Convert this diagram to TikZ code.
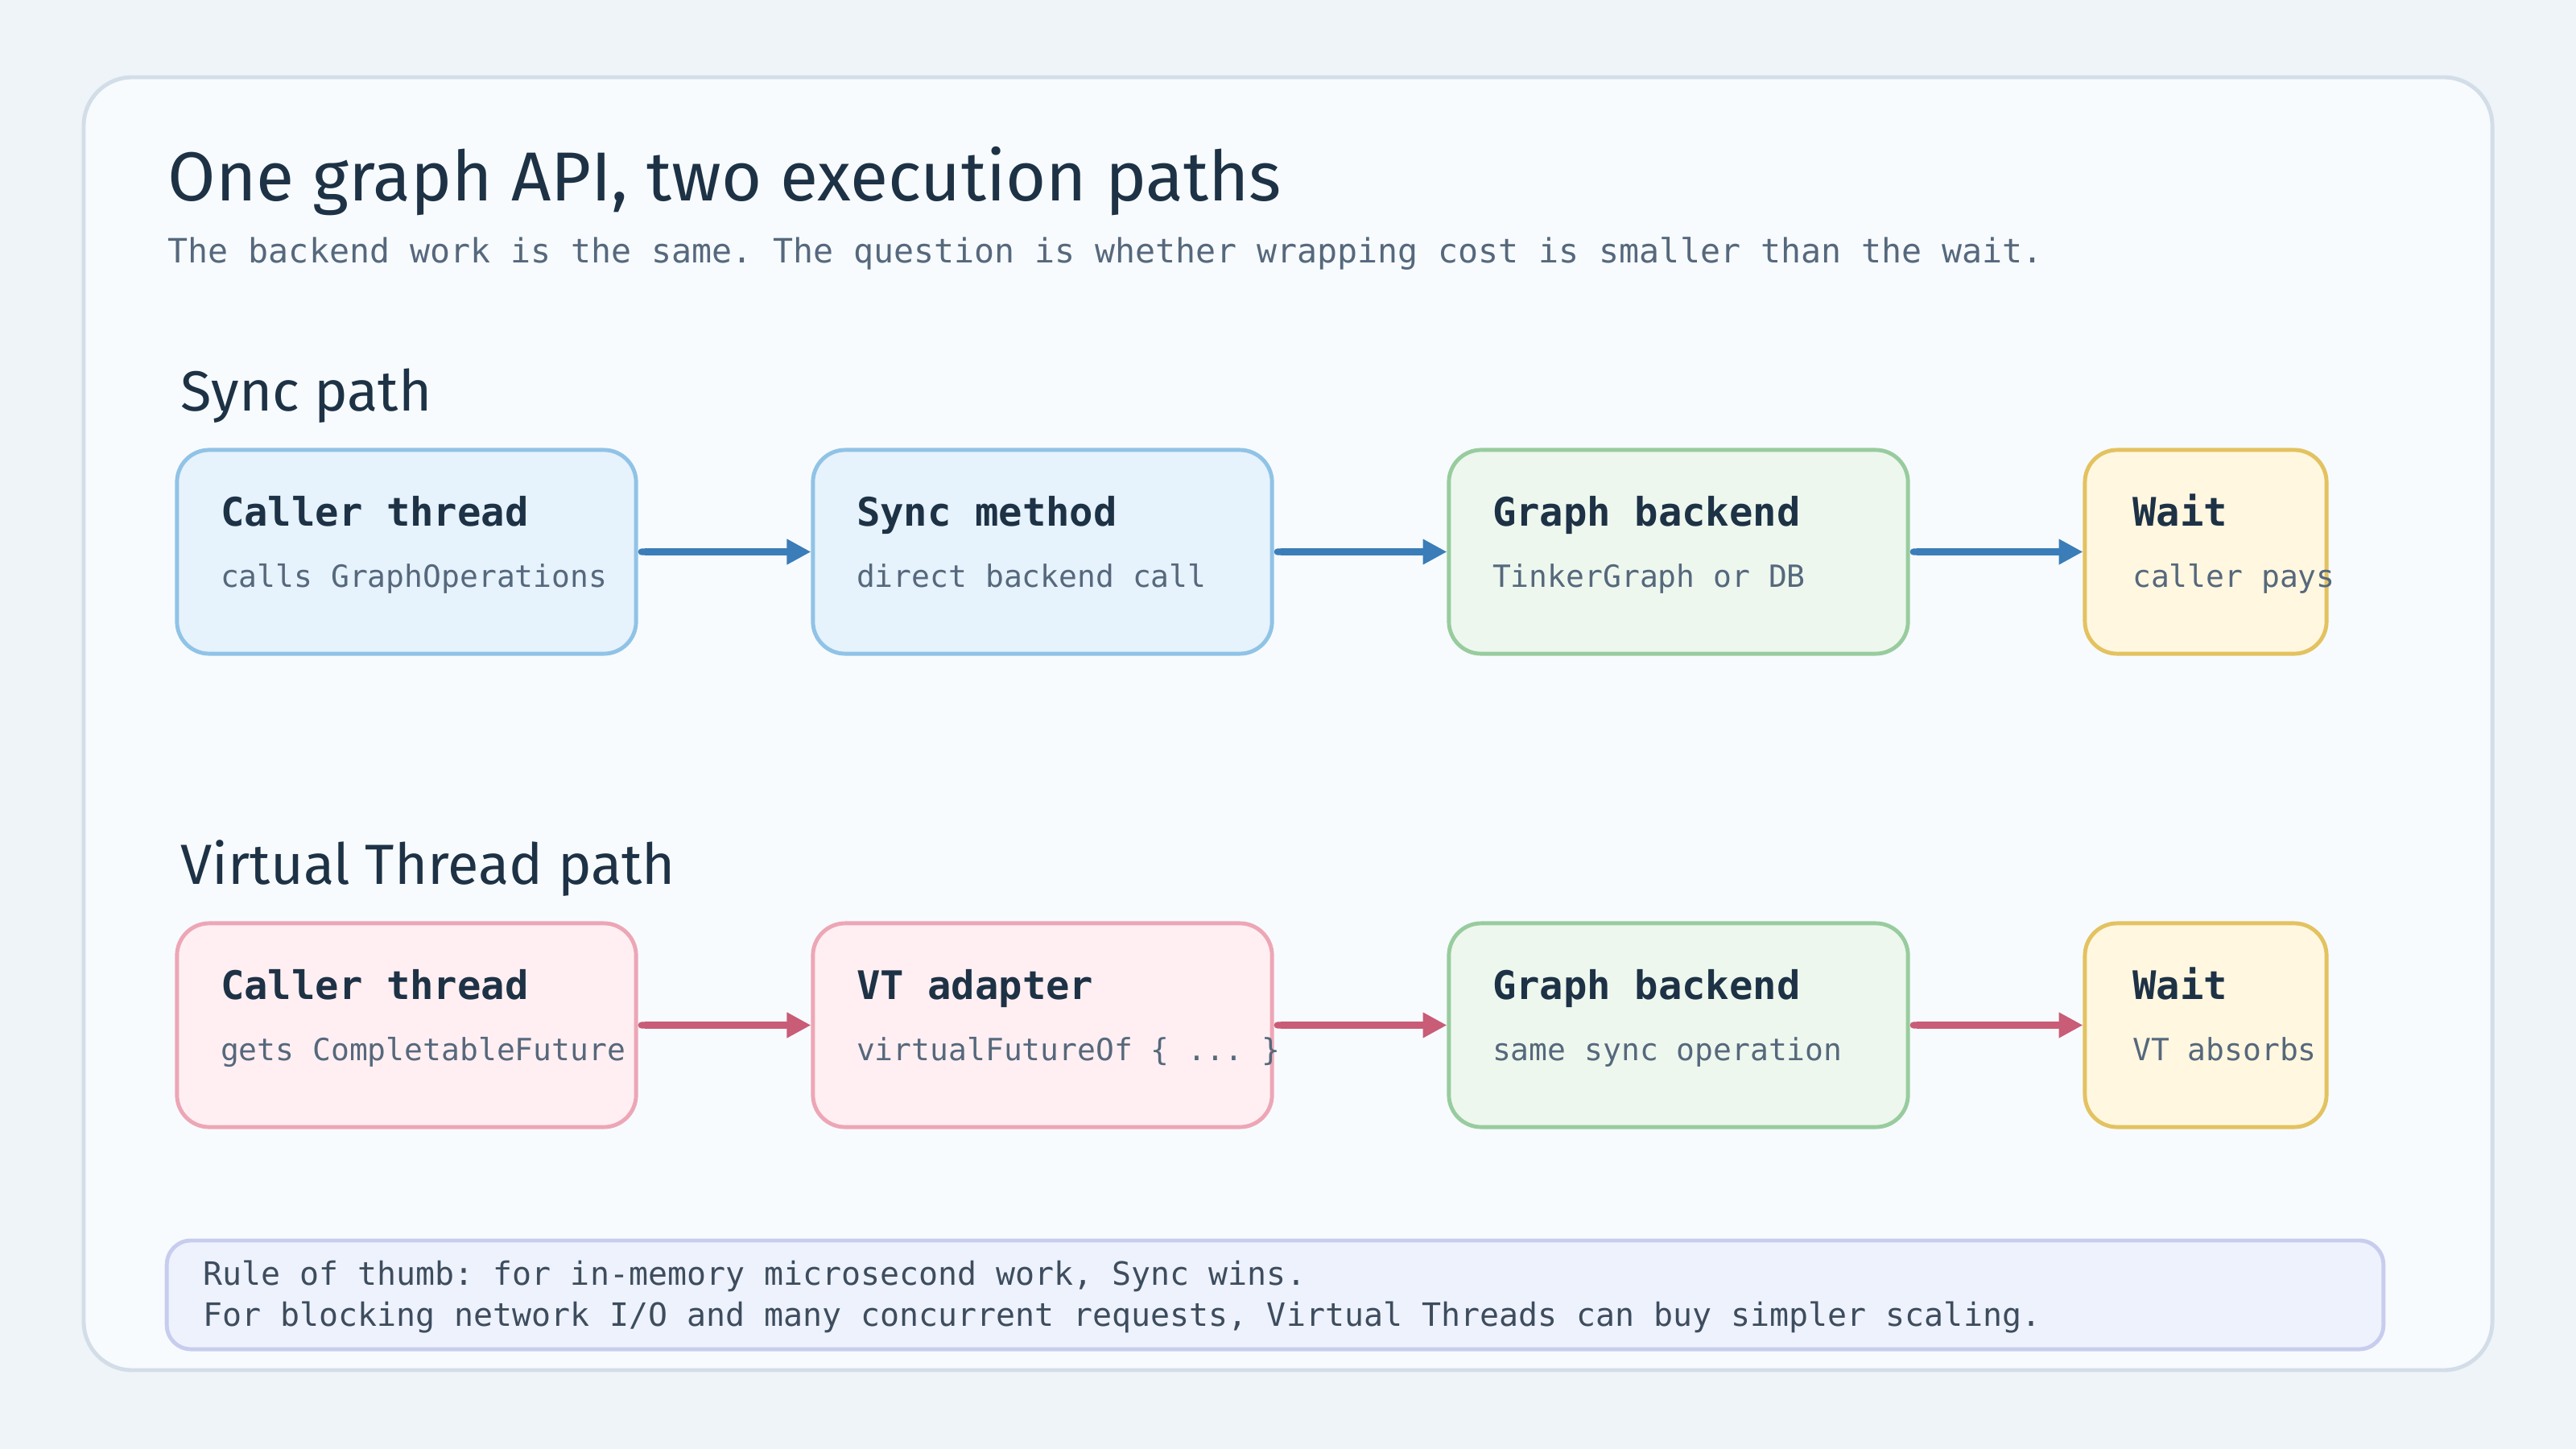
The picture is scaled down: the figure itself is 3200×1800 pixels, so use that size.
\documentclass[tikz,border=0pt]{standalone}
\usepackage{fontspec}
\setmainfont{Fira Sans}
\setmonofont{DejaVu Sans Mono}
\usetikzlibrary{arrows.meta}

\definecolor{pagebg}{HTML}{EEF4F7}
\definecolor{panelfill}{HTML}{F7FBFE}
\definecolor{paneldraw}{HTML}{D3DDE8}
\definecolor{ink}{HTML}{1E3246}
\definecolor{subgrey}{HTML}{56687C}
\definecolor{bluefill}{HTML}{E6F2FC}
\definecolor{bluedraw}{HTML}{90C3E6}
\definecolor{greenfill}{HTML}{EDF7EE}
\definecolor{greendraw}{HTML}{98CC9E}
\definecolor{yellowfill}{HTML}{FFF7E0}
\definecolor{yellowdraw}{HTML}{E3C260}
\definecolor{pinkfill}{HTML}{FFEFF2}
\definecolor{pinkdraw}{HTML}{EDA6B5}
\definecolor{syncarrow}{HTML}{3A7DB8}
\definecolor{vtarrow}{HTML}{C95C76}
\definecolor{notefill}{HTML}{EEF2FD}
\definecolor{notedraw}{HTML}{C8CDEE}
\definecolor{notetext}{HTML}{3D4D5E}

\tikzset{
  stage/.style={rectangle, rounded corners=0.4cm, line width=1.4pt, minimum height=2.53cm, inner sep=0pt},
  headtxt/.style={anchor=base west, inner sep=0pt, text=ink, font=\ttfamily\bfseries\fontsize{13.9}{16}\selectfont},
  subtxt/.style={anchor=base west, inner sep=0pt, text=subgrey, font=\ttfamily\fontsize{10.8}{13}\selectfont},
  rowlabel/.style={anchor=base west, inner sep=0pt, text=ink, font=\fontsize{20}{24}\selectfont},
  flow/.style={line width=2.3pt, {Round Cap}-{Triangle[length=8.5pt,width=8.5pt]}}
}

\begin{document}
\begin{tikzpicture}[x=0.01cm, y=-0.01cm]
  \fill[pagebg] (0,0) rectangle (3200,1800);
  \useasboundingbox (0,0) rectangle (3200,1800);
  \filldraw[fill=panelfill, draw=paneldraw, line width=1.4pt, rounded corners=0.6cm] (104,96) rectangle (3096,1702);

  \node[anchor=base west, inner sep=0pt, text=ink, font=\fontsize{24.5}{28}\selectfont] (title) at (208,249) {One graph API, two execution paths};
  \node[anchor=base west, inner sep=0pt, text=subgrey, font=\ttfamily\fontsize{11.83}{14}\selectfont] (subtitle) at (208,327) {The backend work is the same. The question is whether wrapping cost is smaller than the wait.};

  % sync row
  \node[rowlabel] (synclabel) at (224,510) {Sync path};

  \node[stage, fill=bluefill, draw=bluedraw, minimum width=5.7cm] (scaller) at (505,685.5) {};
  \node[stage, fill=bluefill, draw=bluedraw, minimum width=5.7cm] (smethod) at (1295,685.5) {};
  \node[stage, fill=greenfill, draw=greendraw, minimum width=5.7cm] (sbackend) at (2085,685.5) {};
  \node[stage, fill=yellowfill, draw=yellowdraw, minimum width=3cm] (swait) at (2740,685.5) {};

  \node[headtxt] (scallerh) at ([shift={(56,-32.5)}]scaller.west) {Caller thread};
  \node[subtxt] (scallers) at ([shift={(56,43.5)}]scaller.west) {calls GraphOperations};
  \node[headtxt] (smethodh) at ([shift={(56,-32.5)}]smethod.west) {Sync method};
  \node[subtxt] (smethods) at ([shift={(56,43.5)}]smethod.west) {direct backend call};
  \node[headtxt] (sbackendh) at ([shift={(56,-32.5)}]sbackend.west) {Graph backend};
  \node[subtxt] (sbackends) at ([shift={(56,43.5)}]sbackend.west) {TinkerGraph or DB};
  \node[headtxt] (swaith) at ([shift={(61,-32.5)}]swait.west) {Wait};
  \node[subtxt] (swaits) at ([shift={(61,43.5)}]swait.west) {caller pays};

  \draw[flow, syncarrow] (scaller.east) -- (smethod.west);
  \draw[flow, syncarrow] (smethod.east) -- (sbackend.west);
  \draw[flow, syncarrow] (sbackend.east) -- (swait.west);

  % virtual thread row
  \node[rowlabel] (vtlabel) at (224,1098) {Virtual Thread path};

  \node[stage, fill=pinkfill, draw=pinkdraw, minimum width=5.7cm] (vcaller) at (505,1273.5) {};
  \node[stage, fill=pinkfill, draw=pinkdraw, minimum width=5.7cm] (vadapter) at (1295,1273.5) {};
  \node[stage, fill=greenfill, draw=greendraw, minimum width=5.7cm] (vbackend) at (2085,1273.5) {};
  \node[stage, fill=yellowfill, draw=yellowdraw, minimum width=3cm] (vwait) at (2740,1273.5) {};

  \node[headtxt] (vcallerh) at ([shift={(56,-32.5)}]vcaller.west) {Caller thread};
  \node[subtxt] (vcallers) at ([shift={(56,43.5)}]vcaller.west) {gets CompletableFuture};
  \node[headtxt] (vadapterh) at ([shift={(56,-32.5)}]vadapter.west) {VT adapter};
  \node[subtxt] (vadapters) at ([shift={(56,43.5)}]vadapter.west) {virtualFutureOf \{ ... \}};
  \node[headtxt] (vbackendh) at ([shift={(56,-32.5)}]vbackend.west) {Graph backend};
  \node[subtxt] (vbackends) at ([shift={(56,43.5)}]vbackend.west) {same sync operation};
  \node[headtxt] (vwaith) at ([shift={(61,-32.5)}]vwait.west) {Wait};
  \node[subtxt] (vwaits) at ([shift={(61,43.5)}]vwait.west) {VT absorbs};

  \draw[flow, vtarrow] (vcaller.east) -- (vadapter.west);
  \draw[flow, vtarrow] (vadapter.east) -- (vbackend.west);
  \draw[flow, vtarrow] (vbackend.east) -- (vwait.west);

  % rule of thumb
  \node[rectangle, rounded corners=0.3cm, line width=1.4pt, fill=notefill, draw=notedraw, minimum width=27.52cm, minimum height=1.35cm, inner sep=0pt] (note) at (1584,1608.5) {};
  \node[anchor=base west, inner sep=0pt, text=notetext, font=\ttfamily\fontsize{11.35}{13}\selectfont] (noteone) at ([shift={(47,-12.5)}]note.west) {Rule of thumb: for in-memory microsecond work, Sync wins.};
  \node[anchor=base west, inner sep=0pt, text=notetext, font=\ttfamily\fontsize{11.35}{13}\selectfont] (notetwo) at ([shift={(47,38.5)}]note.west) {For blocking network I/O and many concurrent requests, Virtual Threads can buy simpler scaling.};
\end{tikzpicture}
\end{document}
